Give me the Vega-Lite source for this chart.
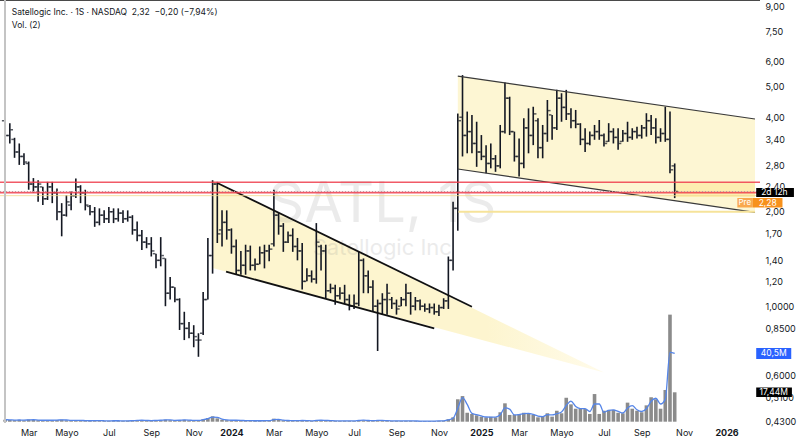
{
"$schema": "https://vega.github.io/schema/vega-lite/v6.json",
"width": 760, "height": 423,
"autosize": {"type": "none"},
"padding": {"left": 0, "top": 0, "right": 40, "bottom": 16},
"background": "white",
"config": {"view": {"stroke": null}, "font": "Inter", "axis": {"labelFont": "Inter", "grid": false, "domain": false, "ticks": false}, "text": {"font": "Inter"}},
"datasets": {
"ohlc": [
{"d":"2023-01-30","o":3.9,"h":4.0,"l":3.3,"c":3.5,"v":1.2},
{"d":"2023-02-06","o":3.5,"h":3.83,"l":3.3,"c":3.65,"v":1.0},
{"d":"2023-02-13","o":3.4,"h":3.44,"l":2.97,"c":3.1,"v":0.9},
{"d":"2023-02-20","o":3.1,"h":3.3,"l":2.82,"c":3.0,"v":1.1},
{"d":"2023-02-27","o":3.0,"h":3.07,"l":2.82,"c":2.88,"v":0.8},
{"d":"2023-03-06","o":2.85,"h":2.89,"l":2.35,"c":2.45,"v":1.3},
{"d":"2023-03-13","o":2.45,"h":2.56,"l":2.3,"c":2.4,"v":1.0},
{"d":"2023-03-20","o":2.4,"h":2.52,"l":2.15,"c":2.45,"v":0.9},
{"d":"2023-03-27","o":2.4,"h":2.4,"l":2.1,"c":2.2,"v":0.8},
{"d":"2023-04-03","o":2.2,"h":2.49,"l":2.18,"c":2.4,"v":0.9},
{"d":"2023-04-10","o":2.4,"h":2.49,"l":2.13,"c":2.3,"v":0.8},
{"d":"2023-04-17","o":2.3,"h":2.37,"l":1.88,"c":2.0,"v":1.0},
{"d":"2023-04-24","o":2.0,"h":2.13,"l":1.67,"c":1.95,"v":1.2},
{"d":"2023-05-01","o":1.95,"h":2.26,"l":1.93,"c":2.15,"v":0.8},
{"d":"2023-05-08","o":2.1,"h":2.32,"l":2.02,"c":2.25,"v":0.7},
{"d":"2023-05-15","o":2.25,"h":2.55,"l":2.21,"c":2.4,"v":0.9},
{"d":"2023-05-22","o":2.4,"h":2.43,"l":2.13,"c":2.3,"v":0.7},
{"d":"2023-05-29","o":2.3,"h":2.35,"l":2.02,"c":2.1,"v":0.6},
{"d":"2023-06-05","o":2.08,"h":2.1,"l":1.95,"c":2.0,"v":0.5},
{"d":"2023-06-12","o":2.0,"h":2.07,"l":1.79,"c":1.85,"v":0.7},
{"d":"2023-06-19","o":1.85,"h":2.05,"l":1.81,"c":1.95,"v":0.6},
{"d":"2023-06-26","o":1.95,"h":2.02,"l":1.84,"c":1.9,"v":0.5},
{"d":"2023-07-03","o":1.9,"h":2.07,"l":1.84,"c":2.0,"v":0.5},
{"d":"2023-07-10","o":2.0,"h":2.05,"l":1.84,"c":1.9,"v":0.6},
{"d":"2023-07-17","o":1.9,"h":2.05,"l":1.86,"c":1.98,"v":0.5},
{"d":"2023-07-24","o":1.98,"h":2.02,"l":1.84,"c":1.9,"v":0.5},
{"d":"2023-07-31","o":1.9,"h":2.02,"l":1.86,"c":1.92,"v":0.5},
{"d":"2023-08-07","o":1.92,"h":1.95,"l":1.69,"c":1.75,"v":0.7},
{"d":"2023-08-14","o":1.75,"h":1.86,"l":1.61,"c":1.68,"v":0.8},
{"d":"2023-08-21","o":1.68,"h":1.75,"l":1.51,"c":1.6,"v":0.9},
{"d":"2023-08-28","o":1.6,"h":1.66,"l":1.53,"c":1.58,"v":0.6},
{"d":"2023-09-04","o":1.58,"h":1.66,"l":1.44,"c":1.5,"v":0.7},
{"d":"2023-09-11","o":1.47,"h":1.47,"l":1.32,"c":1.4,"v":0.8},
{"d":"2023-09-18","o":1.4,"h":1.66,"l":1.34,"c":1.45,"v":0.9},
{"d":"2023-09-25","o":1.42,"h":1.42,"l":1.0,"c":1.1,"v":1.2},
{"d":"2023-10-02","o":1.1,"h":1.24,"l":1.05,"c":1.15,"v":0.9},
{"d":"2023-10-09","o":1.15,"h":1.15,"l":1.03,"c":1.05,"v":0.7},
{"d":"2023-10-16","o":1.05,"h":1.06,"l":0.84,"c":0.88,"v":1.0},
{"d":"2023-10-23","o":0.88,"h":0.96,"l":0.78,"c":0.85,"v":1.1},
{"d":"2023-10-30","o":0.85,"h":0.89,"l":0.79,"c":0.82,"v":0.8},
{"d":"2023-11-06","o":0.82,"h":0.87,"l":0.74,"c":0.8,"v":0.7},
{"d":"2023-11-13","o":0.78,"h":0.82,"l":0.69,"c":0.78,"v":0.9},
{"d":"2023-11-20","o":0.82,"h":1.11,"l":0.81,"c":1.05,"v":1.5},
{"d":"2023-11-27","o":1.05,"h":1.65,"l":1.05,"c":1.45,"v":2.2},
{"d":"2023-12-04","o":1.45,"h":2.52,"l":1.27,"c":2.45,"v":3.2},
{"d":"2023-12-11","o":2.45,"h":2.49,"l":1.59,"c":1.7,"v":2.0},
{"d":"2023-12-18","o":1.75,"h":2.02,"l":1.55,"c":1.85,"v":1.2},
{"d":"2023-12-25","o":1.85,"h":2.02,"l":1.63,"c":1.75,"v":0.9},
{"d":"2024-01-01","o":1.75,"h":1.77,"l":1.47,"c":1.55,"v":0.8},
{"d":"2024-01-08","o":1.55,"h":1.63,"l":1.26,"c":1.3,"v":0.9},
{"d":"2024-01-15","o":1.3,"h":1.5,"l":1.26,"c":1.35,"v":0.7},
{"d":"2024-01-22","o":1.35,"h":1.57,"l":1.26,"c":1.5,"v":0.6},
{"d":"2024-01-29","o":1.5,"h":1.56,"l":1.3,"c":1.35,"v":0.6},
{"d":"2024-02-05","o":1.35,"h":1.42,"l":1.3,"c":1.36,"v":0.5},
{"d":"2024-02-12","o":1.36,"h":1.55,"l":1.36,"c":1.48,"v":0.6},
{"d":"2024-02-19","o":1.48,"h":1.57,"l":1.32,"c":1.5,"v":0.6},
{"d":"2024-02-26","o":1.5,"h":1.57,"l":1.39,"c":1.52,"v":0.6},
{"d":"2024-03-04","o":1.58,"h":2.35,"l":1.55,"c":1.95,"v":1.8},
{"d":"2024-03-11","o":1.95,"h":1.98,"l":1.69,"c":1.8,"v":1.0},
{"d":"2024-03-18","o":1.8,"h":1.84,"l":1.49,"c":1.6,"v":0.8},
{"d":"2024-03-25","o":1.6,"h":1.73,"l":1.59,"c":1.68,"v":0.6},
{"d":"2024-04-01","o":1.68,"h":1.77,"l":1.49,"c":1.55,"v":0.6},
{"d":"2024-04-08","o":1.55,"h":1.65,"l":1.4,"c":1.5,"v":0.6},
{"d":"2024-04-15","o":1.5,"h":1.59,"l":1.13,"c":1.2,"v":0.8},
{"d":"2024-04-22","o":1.2,"h":1.32,"l":1.2,"c":1.25,"v":0.5},
{"d":"2024-04-29","o":1.25,"h":1.3,"l":1.19,"c":1.22,"v":0.5},
{"d":"2024-05-06","o":1.22,"h":1.84,"l":1.18,"c":1.6,"v":1.0},
{"d":"2024-05-13","o":1.55,"h":1.57,"l":1.3,"c":1.5,"v":0.7},
{"d":"2024-05-20","o":1.5,"h":1.57,"l":1.06,"c":1.12,"v":0.8},
{"d":"2024-05-27","o":1.12,"h":1.18,"l":1.1,"c":1.14,"v":0.5},
{"d":"2024-06-03","o":1.14,"h":1.17,"l":1.01,"c":1.08,"v":0.5},
{"d":"2024-06-10","o":1.08,"h":1.15,"l":1.05,"c":1.1,"v":0.4},
{"d":"2024-06-17","o":1.1,"h":1.17,"l":1.02,"c":1.05,"v":0.5},
{"d":"2024-06-24","o":1.05,"h":1.09,"l":0.97,"c":1.0,"v":0.5},
{"d":"2024-07-01","o":1.0,"h":1.09,"l":0.98,"c":1.02,"v":0.4},
{"d":"2024-07-08","o":1.02,"h":1.49,"l":1.0,"c":1.4,"v":1.0},
{"d":"2024-07-15","o":1.4,"h":1.42,"l":1.1,"c":1.25,"v":0.8},
{"d":"2024-07-22","o":1.25,"h":1.3,"l":1.1,"c":1.15,"v":0.6},
{"d":"2024-07-29","o":1.15,"h":1.21,"l":0.96,"c":1.0,"v":0.6},
{"d":"2024-08-05","o":1.0,"h":1.05,"l":0.72,"c":1.02,"v":1.0},
{"d":"2024-08-12","o":1.02,"h":1.1,"l":0.94,"c":1.05,"v":0.6},
{"d":"2024-08-19","o":1.05,"h":1.18,"l":0.94,"c":1.1,"v":0.6},
{"d":"2024-08-26","o":1.05,"h":1.07,"l":0.98,"c":1.02,"v":0.4},
{"d":"2024-09-02","o":1.02,"h":1.05,"l":0.94,"c":0.98,"v":0.5},
{"d":"2024-09-09","o":1.0,"h":1.07,"l":1.0,"c":1.05,"v":0.4},
{"d":"2024-09-16","o":1.05,"h":1.18,"l":1.0,"c":1.1,"v":0.5},
{"d":"2024-09-23","o":1.1,"h":1.11,"l":0.94,"c":1.0,"v":0.5},
{"d":"2024-09-30","o":1.0,"h":1.07,"l":0.97,"c":1.04,"v":0.4},
{"d":"2024-10-07","o":1.04,"h":1.05,"l":0.97,"c":1.0,"v":0.4},
{"d":"2024-10-14","o":1.0,"h":1.02,"l":0.96,"c":0.98,"v":0.4},
{"d":"2024-10-21","o":0.98,"h":1.02,"l":0.95,"c":0.99,"v":0.4},
{"d":"2024-10-28","o":0.99,"h":1.02,"l":0.94,"c":0.96,"v":0.4},
{"d":"2024-11-04","o":0.96,"h":1.01,"l":0.93,"c":0.99,"v":0.5},
{"d":"2024-11-11","o":0.99,"h":1.06,"l":0.98,"c":1.04,"v":0.6},
{"d":"2024-11-18","o":1.04,"h":1.44,"l":0.98,"c":1.4,"v":1.5},
{"d":"2024-11-25","o":1.4,"h":2.15,"l":1.3,"c":2.05,"v":2.6},
{"d":"2024-12-02","o":2.05,"h":4.11,"l":1.74,"c":3.9,"v":13.3},
{"d":"2024-12-09","o":4.0,"h":5.45,"l":3.0,"c":3.5,"v":15.2},
{"d":"2024-12-16","o":3.5,"h":4.17,"l":3.07,"c":3.6,"v":5.3},
{"d":"2024-12-23","o":3.6,"h":4.07,"l":3.07,"c":3.3,"v":4.6},
{"d":"2024-12-30","o":3.3,"h":3.87,"l":2.78,"c":3.1,"v":3.8},
{"d":"2025-01-06","o":3.1,"h":3.51,"l":2.92,"c":3.0,"v":3.0},
{"d":"2025-01-13","o":3.0,"h":3.26,"l":2.65,"c":2.85,"v":2.6},
{"d":"2025-01-20","o":2.85,"h":3.3,"l":2.75,"c":2.95,"v":2.9},
{"d":"2025-01-27","o":2.95,"h":3.03,"l":2.68,"c":2.8,"v":2.6},
{"d":"2025-02-03","o":2.8,"h":3.78,"l":2.75,"c":3.6,"v":5.6},
{"d":"2025-02-10","o":3.6,"h":5.16,"l":3.55,"c":4.6,"v":10.9},
{"d":"2025-02-17","o":4.6,"h":4.65,"l":3.51,"c":3.6,"v":4.0},
{"d":"2025-02-24","o":3.6,"h":3.6,"l":2.89,"c":3.0,"v":4.0},
{"d":"2025-03-03","o":3.0,"h":3.42,"l":2.59,"c":2.85,"v":4.4},
{"d":"2025-03-10","o":2.85,"h":3.97,"l":2.75,"c":3.7,"v":5.3},
{"d":"2025-03-17","o":3.7,"h":4.27,"l":3.07,"c":3.5,"v":4.6},
{"d":"2025-03-24","o":3.5,"h":4.32,"l":3.26,"c":4.1,"v":4.0},
{"d":"2025-03-31","o":3.9,"h":3.97,"l":2.96,"c":3.2,"v":2.6},
{"d":"2025-04-07","o":3.2,"h":3.78,"l":2.96,"c":3.55,"v":3.4},
{"d":"2025-04-14","o":3.55,"h":4.54,"l":3.34,"c":4.2,"v":5.0},
{"d":"2025-04-21","o":4.07,"h":4.07,"l":3.39,"c":3.7,"v":3.0},
{"d":"2025-04-28","o":3.7,"h":4.89,"l":3.64,"c":4.6,"v":6.5},
{"d":"2025-05-05","o":4.6,"h":4.77,"l":3.87,"c":4.3,"v":5.0},
{"d":"2025-05-12","o":4.3,"h":4.89,"l":3.92,"c":4.1,"v":14.2},
{"d":"2025-05-19","o":4.1,"h":4.27,"l":3.69,"c":3.9,"v":10.3},
{"d":"2025-05-26","o":3.9,"h":4.22,"l":3.69,"c":3.8,"v":7.7},
{"d":"2025-06-02","o":3.8,"h":3.83,"l":3.26,"c":3.4,"v":7.9},
{"d":"2025-06-09","o":3.4,"h":3.69,"l":3.1,"c":3.3,"v":7.5},
{"d":"2025-06-16","o":3.3,"h":3.6,"l":3.26,"c":3.5,"v":4.6},
{"d":"2025-06-23","o":3.5,"h":3.78,"l":3.39,"c":3.6,"v":16.4},
{"d":"2025-06-30","o":3.6,"h":3.92,"l":3.39,"c":3.5,"v":4.6},
{"d":"2025-07-07","o":3.5,"h":3.55,"l":3.23,"c":3.3,"v":6.5},
{"d":"2025-07-14","o":3.35,"h":3.83,"l":3.34,"c":3.6,"v":7.0},
{"d":"2025-07-21","o":3.6,"h":3.69,"l":3.3,"c":3.45,"v":7.0},
{"d":"2025-07-28","o":3.45,"h":3.69,"l":3.15,"c":3.3,"v":5.3},
{"d":"2025-08-04","o":3.35,"h":3.64,"l":3.34,"c":3.55,"v":5.0},
{"d":"2025-08-11","o":3.55,"h":3.87,"l":3.34,"c":3.45,"v":11.3},
{"d":"2025-08-18","o":3.45,"h":3.69,"l":3.39,"c":3.6,"v":7.7},
{"d":"2025-08-25","o":3.6,"h":3.73,"l":3.42,"c":3.5,"v":6.5},
{"d":"2025-09-01","o":3.5,"h":3.78,"l":3.42,"c":3.7,"v":5.6},
{"d":"2025-09-08","o":3.7,"h":4.12,"l":3.47,"c":3.9,"v":9.7},
{"d":"2025-09-15","o":3.9,"h":4.07,"l":3.51,"c":3.7,"v":14.5},
{"d":"2025-09-22","o":3.7,"h":3.97,"l":3.3,"c":3.45,"v":13.3},
{"d":"2025-09-29","o":3.45,"h":3.69,"l":3.34,"c":3.55,"v":7.7},
{"d":"2025-10-06","o":3.55,"h":4.32,"l":3.34,"c":3.4,"v":18.8},
{"d":"2025-10-13","o":3.4,"h":4.17,"l":2.65,"c":2.72,"v":63.5},
{"d":"2025-10-20","o":2.8,"h":2.85,"l":2.21,"c":2.32,"v":17.44}
]
},
"layer": [
{
"data": {"name": "ohlc"},
"layer": [
{"mark": {"type": "bar", "color": "#8b8b8b", "size": 3.6},
 "encoding": {"x": {"field": "d", "type": "temporal"},
   "y": {"field": "v", "type": "quantitative", "scale": {"domain": [-0.77, 250.1], "nice": false, "zero": false}, "axis": null}}},
{"transform": [{"window": [{"op": "mean", "field": "v", "as": "ma"}], "frame": [-1, 0], "sort": [{"field": "d"}]}],
 "mark": {"type": "line", "color": "#5585e8", "strokeWidth": 1.3, "interpolate": "monotone"},
 "encoding": {"x": {"field": "d", "type": "temporal"},
   "y": {"field": "ma", "type": "quantitative", "axis": null}}},
{"data": {"values": [{}]}, "mark": {"type": "rect", "color": "#2962ff"},
 "encoding": {"x": {"datum": {"year": 2026, "month": 2, "date": 18, "utc": true}, "type": "temporal"},
   "x2": {"datum": {"year": 2026, "month": 4, "date": 11, "utc": true}},
   "y": {"datum": 43.7, "type": "quantitative", "axis": null}, "y2": {"datum": 37.2}}},
{"data": {"values": [{}]}, "mark": {"type": "text", "color": "white", "fontSize": 8.5, "align": "center", "baseline": "middle"},
 "encoding": {"x": {"datum": {"year": 2026, "month": 3, "date": 16, "utc": true}, "type": "temporal"},
   "y": {"datum": 40.5, "type": "quantitative", "axis": null}, "text": {"value": "40,5M"}}},
{"data": {"values": [{}]}, "mark": {"type": "rect", "color": "#000000"},
 "encoding": {"x": {"datum": {"year": 2026, "month": 2, "date": 18, "utc": true}, "type": "temporal"},
   "x2": {"datum": {"year": 2026, "month": 4, "date": 12, "utc": true}},
   "y": {"datum": 20.3, "type": "quantitative", "axis": null}, "y2": {"datum": 14.65}}},
{"data": {"values": [{}]}, "mark": {"type": "text", "color": "white", "fontSize": 8.5, "align": "center", "baseline": "middle"},
 "encoding": {"x": {"datum": {"year": 2026, "month": 3, "date": 16, "utc": true}, "type": "temporal"},
   "y": {"datum": 17.44, "type": "quantitative", "axis": null}, "text": {"value": "17,44M"}}}
]
},
{
"layer": [
{"data": {"values": [{"d": "2023-12-04", "u": 2.513, "lo": 1.323}, {"d": "2025-07-07", "u": 0.615, "lo": 0.615}]},
 "mark": {"type": "area", "color": {"gradient": "linear", "x1": 0, "y1": 0, "x2": 1, "y2": 0, "stops": [{"offset": 0, "color": "#fdf5cf"}, {"offset": 0.7, "color": "#fdf5cf"}, {"offset": 1, "color": "#fffbea"}]}},
 "encoding": {"x": {"field": "d", "type": "temporal"},
   "y": {"field": "u", "type": "quantitative"}, "y2": {"field": "lo"}}},
{"data": {"values": [{"d": "2024-12-02", "u": 5.41, "lo": 2.736}, {"d": "2026-02-16T04:48:00Z", "u": 3.949, "lo": 1.991}]},
 "mark": {"type": "area", "color": "#fdf6d3"},
 "encoding": {"x": {"field": "d", "type": "temporal"},
   "y": {"field": "u", "type": "quantitative"}, "y2": {"field": "lo"}}},
{"data": {"values": [{}]}, "mark": {"type": "rect", "color": "#fdeeb0"},
 "encoding": {"x": {"datum": {"year": 2025, "month": 10, "date": 20, "utc": true}, "type": "temporal"},
   "x2": {"datum": {"year": 2026, "month": 2, "date": 16, "hours": 5, "utc": true}},
   "y": {"datum": 2.482, "type": "quantitative"}, "y2": {"datum": 2.228}}},
{"data": {"values": [{}]}, "mark": {"type": "text", "fontSize": 56, "color": "#888888", "opacity": 0.16, "align": "center", "baseline": "middle", "font": "Inter"},
 "encoding": {"x": {"datum": {"year": 2024, "month": 8, "date": 12, "utc": true}, "type": "temporal"},
   "y": {"datum": 2.1, "type": "quantitative"}, "text": {"value": "SATL, 1S"}}},
{"data": {"values": [{}]}, "mark": {"type": "text", "fontSize": 22, "color": "#888888", "opacity": 0.16, "align": "center", "baseline": "middle", "font": "Inter"},
 "encoding": {"x": {"datum": {"year": 2024, "month": 8, "date": 12, "utc": true}, "type": "temporal"},
   "y": {"datum": 1.53, "type": "quantitative"}, "text": {"value": "Satellogic Inc"}}},
{"data": {"name": "ohlc"}, "mark": {"type": "rule", "color": "#131722", "strokeWidth": 1.6},
 "encoding": {
   "x": {"field": "d", "type": "temporal",
     "scale": {"type": "utc", "domain": [1675022976000, 1771217280000]},
     "axis": {"title": null, "orient": "bottom",
       "values": [{"year":2023,"month":3,"date":6,"utc":true},{"year":2023,"month":5,"date":1,"utc":true},{"year":2023,"month":7,"date":3,"utc":true},{"year":2023,"month":9,"date":4,"utc":true},{"year":2023,"month":11,"date":6,"utc":true},{"year":2024,"month":1,"date":1,"utc":true},{"year":2024,"month":3,"date":4,"utc":true},{"year":2024,"month":5,"date":6,"utc":true},{"year":2024,"month":7,"date":1,"utc":true},{"year":2024,"month":9,"date":2,"utc":true},{"year":2024,"month":11,"date":4,"utc":true},{"year":2025,"month":1,"date":6,"utc":true},{"year":2025,"month":3,"date":3,"utc":true},{"year":2025,"month":5,"date":5,"utc":true},{"year":2025,"month":7,"date":7,"utc":true},{"year":2025,"month":9,"date":1,"utc":true},{"year":2025,"month":11,"date":3,"utc":true},{"year":2026,"month":1,"date":5,"utc":true}],
       "labelExpr": "utcmonth(datum.value) == 0 ? utcFormat(datum.value, '%Y') : ['Ene','Feb','Mar','Abr','Mayo','Jun','Jul','Ago','Sep','Oct','Nov','Dic'][utcmonth(datum.value)]",
       "labelFontWeight": {"condition": {"test": "utcmonth(datum.value) == 0", "value": "bold"}, "value": "normal"},
       "labelFontSize": 9, "labelColor": "#131722", "labelPadding": 5, "labelFlush": false, "labelOverlap": false,
       "domain": false, "ticks": false, "grid": false}},
   "y": {"field": "l", "type": "quantitative",
     "scale": {"type": "log", "domain": [0.4245, 9.454], "nice": false, "zero": false},
     "axis": {"title": null, "orient": "right",
       "values": [0.43, 0.51, 0.6, 0.85, 1, 1.2, 1.4, 1.7, 2, 2.4, 2.8, 3.4, 4, 5, 6, 7.5, 9],
       "labelExpr": "datum.value < 1.0001 ? replace(format(datum.value, '.4f'), '.', ',') : replace(format(datum.value, '.2f'), '.', ',')",
       "labelFontSize": 9, "labelColor": "#131722", "labelPadding": 5, "labelAlign": "left", "labelOverlap": false,
       "domain": false, "ticks": false, "grid": false}},
   "y2": {"field": "h"}}},
{"data": {"name": "ohlc"}, "mark": {"type": "tick", "orient": "horizontal", "color": "#131722", "size": 2.6, "thickness": 1.5, "xOffset": -1.9},
 "encoding": {"x": {"field": "d", "type": "temporal"}, "y": {"field": "o", "type": "quantitative"}}},
{"data": {"name": "ohlc"}, "mark": {"type": "tick", "orient": "horizontal", "color": "#131722", "size": 2.6, "thickness": 1.5, "xOffset": 1.9},
 "encoding": {"x": {"field": "d", "type": "temporal"}, "y": {"field": "c", "type": "quantitative"}}},
{"data": {"values": [{"d": "2023-12-11", "p": 2.47, "g": "a"}, {"d": "2024-12-23", "p": 0.9963, "g": "a"}, {"d": "2023-12-24", "p": 1.288, "g": "b"}, {"d": "2024-10-28", "p": 0.8503, "g": "b"}]},
 "mark": {"type": "line", "color": "#111111", "strokeWidth": 1.8},
 "encoding": {"x": {"field": "d", "type": "temporal"}, "y": {"field": "p", "type": "quantitative"}, "detail": {"field": "g"}}},
{"data": {"values": [{"d": "2024-12-02", "p": 5.41, "g": "a"}, {"d": "2026-02-16T04:48:00Z", "p": 3.949, "g": "a"}, {"d": "2024-12-02", "p": 2.736, "g": "b"}, {"d": "2026-02-16T04:48:00Z", "p": 1.991, "g": "b"}]},
 "mark": {"type": "line", "color": "#3a3a3a", "strokeWidth": 1.1},
 "encoding": {"x": {"field": "d", "type": "temporal"}, "y": {"field": "p", "type": "quantitative"}, "detail": {"field": "g"}}},
{"data": {"values": [{}]}, "mark": {"type": "rule", "color": "#f6e39a", "strokeWidth": 2},
 "encoding": {"x": {"datum": {"year": 2024, "month": 12, "date": 3, "utc": true}, "type": "temporal"},
   "x2": {"datum": {"year": 2026, "month": 2, "date": 16, "hours": 5, "utc": true}},
   "y": {"datum": 2.0, "type": "quantitative"}}},
{"data": {"values": [{}]}, "mark": {"type": "rule", "color": "#f3d98c", "strokeWidth": 1, "opacity": 0.8},
 "encoding": {"y": {"datum": 2.25, "type": "quantitative"}}},
{"data": {"values": [{}]}, "mark": {"type": "rule", "color": "#b2b5be", "strokeWidth": 1, "strokeDash": [1, 2]},
 "encoding": {"y": {"datum": 2.32, "type": "quantitative"}}},
{"data": {"values": [{"p": 2.482}, {"p": 2.3}]}, "mark": {"type": "rule", "color": "#ee3d4c", "strokeWidth": 1.6, "opacity": 0.85},
 "encoding": {"y": {"field": "p", "type": "quantitative"}}},
{"data": {"values": [{}]}, "mark": {"type": "rule", "color": "#4a4a4a", "strokeWidth": 2},
 "encoding": {"y": {"datum": 9.454, "type": "quantitative"}}},
{"data": {"values": [{}]}, "mark": {"type": "rule", "color": "#c4c4c4", "strokeWidth": 2},
 "encoding": {"x": {"datum": {"year": 2023, "month": 1, "date": 29, "hours": 20, "utc": true}, "type": "temporal"}}},
{"data": {"values": [{}]}, "mark": {"type": "rect", "color": "#000000"},
 "encoding": {"x": {"datum": {"year": 2026, "month": 2, "date": 18, "utc": true}, "type": "temporal"},
   "x2": {"datum": {"year": 2026, "month": 4, "date": 15, "utc": true}},
   "y": {"datum": 2.38, "type": "quantitative"}, "y2": {"datum": 2.228}}},
{"data": {"values": [{}]}, "mark": {"type": "text", "color": "white", "fontSize": 8.5, "align": "center", "baseline": "middle"},
 "encoding": {"x": {"datum": {"year": 2026, "month": 3, "date": 17, "utc": true}, "type": "temporal"},
   "y": {"datum": 2.303, "type": "quantitative"}, "text": {"value": "2d 12h"}}},
{"data": {"values": [{}]}, "mark": {"type": "rect", "color": "#f9a84e"},
 "encoding": {"x": {"datum": {"year": 2026, "month": 1, "date": 21, "utc": true}, "type": "temporal"},
   "x2": {"datum": {"year": 2026, "month": 2, "date": 13, "utc": true}},
   "y": {"datum": 2.212, "type": "quantitative"}, "y2": {"datum": 2.063}}},
{"data": {"values": [{}]}, "mark": {"type": "rect", "color": "#f7911c"},
 "encoding": {"x": {"datum": {"year": 2026, "month": 2, "date": 13, "utc": true}, "type": "temporal"},
   "x2": {"datum": {"year": 2026, "month": 3, "date": 29, "utc": true}},
   "y": {"datum": 2.212, "type": "quantitative"}, "y2": {"datum": 2.063}}},
{"data": {"values": [{}]}, "mark": {"type": "text", "color": "white", "fontSize": 8, "align": "center", "baseline": "middle"},
 "encoding": {"x": {"datum": {"year": 2026, "month": 2, "date": 1, "utc": true}, "type": "temporal"},
   "y": {"datum": 2.137, "type": "quantitative"}, "text": {"value": "Pre"}}},
{"data": {"values": [{}]}, "mark": {"type": "text", "color": "white", "fontSize": 8.5, "align": "center", "baseline": "middle"},
 "encoding": {"x": {"datum": {"year": 2026, "month": 3, "date": 7, "utc": true}, "type": "temporal"},
   "y": {"datum": 2.137, "type": "quantitative"}, "text": {"value": "2,28"}}},
{"data": {"values": [{}]}, "mark": {"type": "text", "color": "#131722", "fontSize": 8.5, "align": "left", "baseline": "middle"},
 "encoding": {"x": {"datum": {"year": 2023, "month": 2, "date": 9, "utc": true}, "type": "temporal"},
   "y": {"datum": 8.66, "type": "quantitative"}, "text": {"value": "Satellogic Inc. · 1S · NASDAQ\u00a0\u00a02,32\u00a0\u00a0−0,20 (−7,94%)"}}},
{"data": {"values": [{}]}, "mark": {"type": "text", "color": "#131722", "fontSize": 8.5, "align": "left", "baseline": "middle"},
 "encoding": {"x": {"datum": {"year": 2023, "month": 2, "date": 9, "utc": true}, "type": "temporal"},
   "y": {"datum": 7.87, "type": "quantitative"}, "text": {"value": "Vol. (2)"}}}
]
}
],
"resolve": {"scale": {"y": "independent"}}
}
